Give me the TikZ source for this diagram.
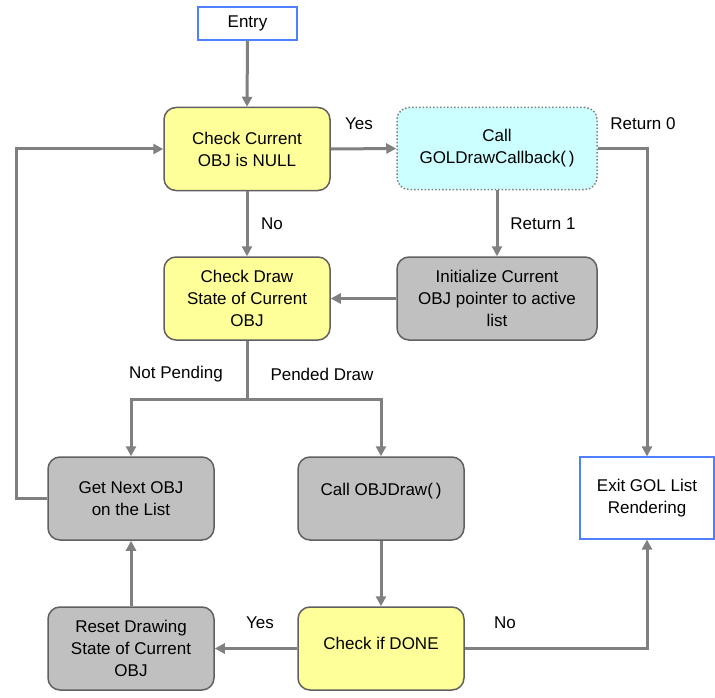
\documentclass[tikz,border=0pt]{standalone}
\usepackage{fontspec}
\setmainfont{Liberation Sans}
\usetikzlibrary{arrows.meta}
\definecolor{yel}{RGB}{255,255,153}
\definecolor{cya}{RGB}{204,255,255}
\definecolor{gry}{RGB}{192,192,192}
\definecolor{bord}{RGB}{96,96,96}
\definecolor{blu}{RGB}{80,128,255}
\definecolor{arr}{RGB}{128,128,128}
\begin{document}
\begin{tikzpicture}[x=1pt,y=-1pt,
  every node/.style={font=\fontsize{17}{22}\selectfont, inner sep=0pt},
  proc/.style={draw=bord, line width=1.5pt, rounded corners=12pt, align=center, minimum width=166pt, minimum height=83pt},
  yelbox/.style={proc, fill=yel},
  grybox/.style={proc, fill=gry},
  cybox/.style={draw=arr, dotted, line width=1.5pt, fill=cya, rounded corners=12pt, align=center, minimum width=200pt, minimum height=82pt},
  term/.style={draw=blu, line width=1.2pt, fill=white, align=center},
  conn/.style={draw=arr, line width=3pt, -{Triangle[length=10pt,width=10pt]}},
  line/.style={draw=arr, line width=3pt},
  lbl/.style={font=\fontsize{17}{22}\selectfont}
]
\useasboundingbox (0,0) rectangle (715,698);
\fill[white] (0,0) rectangle (715,698);

\node[term, minimum width=99pt, minimum height=33pt] (entry) at (247.5,23.5) {Entry};
\node[yelbox] (cc) at (247,149) {Check Current\\OBJ is NULL};
\node[cybox] (gol) at (497,148.5) {Call\\GOLDrawCallback(\,)};
\node[yelbox] (cd) at (247,298.5) {Check Draw\\State of Current\\OBJ};
\node[grybox, minimum width=200pt] (init) at (497,298.5) {Initialize Current\\OBJ pointer to active\\list};
\node[grybox] (gn) at (131,498.5) {Get Next OBJ\\on the List};
\node[grybox] (od) at (381,498.5) {};
\node[lbl] (odt) at (381,491) {Call OBJDraw(\,)};
\node[term, minimum width=134pt, minimum height=82pt] (exit) at (647,498) {Exit GOL List\\Rendering};
\node[grybox] (rs) at (131,648.5) {Reset Drawing\\State of Current\\OBJ};
\node[yelbox] (dn) at (381,648.5) {};
\node[lbl] (dnt) at (381,643) {Check if DONE};

\coordinate (j) at (247,399);
\coordinate (lp) at (16,498.5);

\draw[conn] (entry.south) -- (cc.north);
\draw[conn] (cc.east) -- (gol.west);
\draw[conn] (cc.south) -- (cd.north);
\draw[conn] (gol.south) -- (init.north);
\draw[conn] (init.west) -- (cd.east);
\draw[conn] (gol.east) -| (exit.north);
\draw[line] (cd.south) -- (j);
\draw[conn] (j) -| (gn.north);
\draw[conn] (j) -| (od.north);
\draw[conn] (gn.west) -- (lp) |- (cc.west);
\draw[conn] (od.south) -- (dn.north);
\draw[conn] (dn.west) -- (rs.east);
\draw[conn] (rs.north) -- (gn.south);
\draw[conn] (dn.east) -| (exit.south);

\node[lbl] (l1) at (359,124) {Yes};
\node[lbl] (l2) at (272,224) {No};
\node[lbl] (l3) at (543,224) {Return 1};
\node[lbl] (l4) at (643,124) {Return 0};
\node[lbl] (l5) at (176,374) {Not Pending};
\node[lbl] (l6) at (322,374) {Pended Draw};
\node[lbl] (l7) at (260,623) {Yes};
\node[lbl] (l8) at (505,623) {No};
\end{tikzpicture}
\end{document}
